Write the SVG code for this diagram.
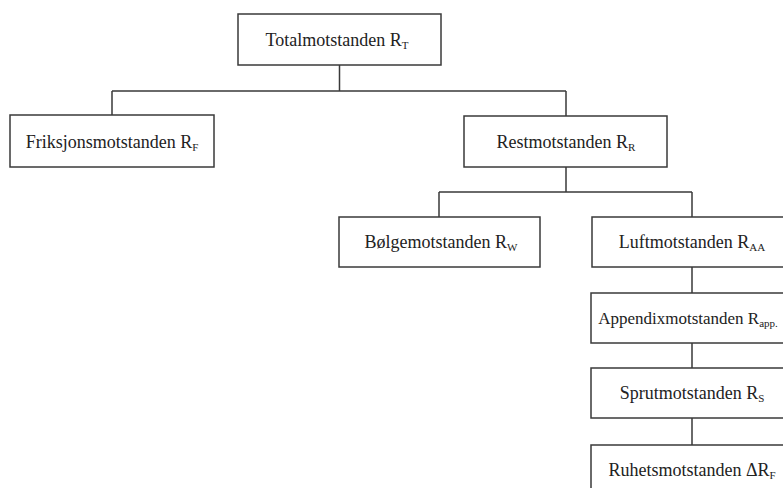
<svg xmlns="http://www.w3.org/2000/svg" width="783" height="488" viewBox="0 0 783 488">
<style>
.box{fill:#fff;stroke:#3a3a3a;stroke-width:1.5}
.lbl{font-family:"Liberation Serif","Times New Roman",serif;font-size:18px;fill:#222;text-anchor:middle}
.sub{font-size:11px}
.con{fill:none;stroke:#3a3a3a;stroke-width:1.5}
</style>
<rect width="783" height="488" fill="#fff"/>
<g id="connectors">
<path class="con" d="M339.5 65 V91 M112 91 H566 M112 91 V115 M566 91 V116"/>
<path class="con" d="M566 167 V192 M439 192 H692 M439 192 V217 M692 192 V217"/>
<path class="con" d="M692 267 V293 M692 343 V368 M692 418 V445"/>
</g>
<g id="total">
<rect class="box" x="238" y="14" width="203" height="51"/>
<text class="lbl" x="337" y="46">Totalmotstanden R<tspan class="sub" dy="3">T</tspan></text>
</g>
<g id="friksjon">
<rect class="box" x="10" y="115" width="204" height="52"/>
<text class="lbl" x="112" y="148">Friksjonsmotstanden R<tspan class="sub" dy="3">F</tspan></text>
</g>
<g id="rest">
<rect class="box" x="464" y="116" width="203" height="51"/>
<text class="lbl" x="566" y="148">Restmotstanden R<tspan class="sub" dy="3">R</tspan></text>
</g>
<g id="bolge">
<rect class="box" x="339" y="217" width="201" height="50"/>
<text class="lbl" x="441" y="248">Bølgemotstanden R<tspan class="sub" dy="3">W</tspan></text>
</g>
<g id="luft">
<rect class="box" x="592" y="217" width="200" height="50"/>
<text class="lbl" x="692" y="248">Luftmotstanden R<tspan class="sub" dy="3">AA</tspan></text>
</g>
<g id="appendix">
<rect class="box" x="591" y="293" width="201" height="50"/>
<text class="lbl" x="688" y="324" style="font-size:17px">Appendixmotstanden R<tspan class="sub" dy="3">app.</tspan></text>
</g>
<g id="sprut">
<rect class="box" x="591" y="368" width="201" height="50"/>
<text class="lbl" x="692" y="399">Sprutmotstanden R<tspan class="sub" dy="3">S</tspan></text>
</g>
<g id="ruhets">
<rect class="box" x="591" y="445" width="201" height="50"/>
<text class="lbl" x="692" y="476">Ruhetsmotstanden ΔR<tspan class="sub" dy="3">F</tspan></text>
</g>
</svg>
